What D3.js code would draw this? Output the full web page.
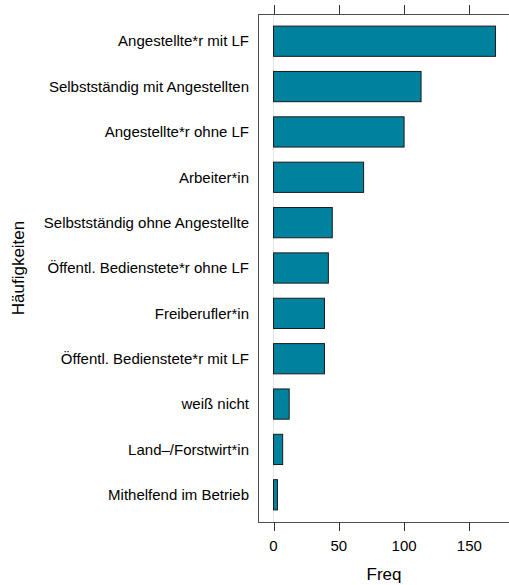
<!DOCTYPE html>
<meta charset="utf-8">
<style>
html,body{
  margin:0;
  background:#fff;
}
text{
  font-family: "Liberation Sans", Arial, sans-serif;
  fill:#000;
}
</style>
<script src="https://d3js.org/d3.v7.min.js"></script>
<body>
<script>

var width = 509,
    height = 585;

// categories from top to bottom, with their frequencies
var categories = ["Angestellte*r mit LF", "Selbstständig mit Angestellten", "Angestellte*r ohne LF",
  "Arbeiter*in", "Selbstständig ohne Angestellte", "Öffentl. Bedienstete*r ohne LF",
  "Freiberufler*in", "Öffentl. Bedienstete*r mit LF", "weiß nicht",
  "Land–/Forstwirt*in", "Mithelfend im Betrieb"];
var freq = [170, 113, 100, 69, 45, 42, 39, 39, 12, 7, 3];
var xTicks = [0, 50, 100, 150];

var panel = {left: 258, top: 14, right: 511, bottom: 522};

var svg = d3.select("body").append("svg")
    .attr("width", width)
    .attr("height", height);

var x = d3.scaleLinear()
    .domain([-11.9, 181.9])
    .range([panel.left, panel.right]);

var y = d3.scaleBand()
    .domain(categories)
    .range([panel.top, panel.bottom])
    .paddingInner(1/3)
    .paddingOuter(0.2667);

// reference line at 0
svg.append("line")
  .attr("x1", x(0)).attr("x2", x(0))
  .attr("y1", panel.top).attr("y2", panel.bottom)
  .attr("stroke", "#e6e6e6")
  .attr("stroke-width", 1);

svg.append("g").selectAll("rect")
  .data(categories)
  .enter().append("rect")
  .attr("x", x(0))
  .attr("y", function(d){ return y(d); })
  .attr("width", function(d, i){ return x(freq[i]) - x(0); })
  .attr("height", y.bandwidth())
  .attr("fill", "#00829f")
  .attr("stroke", "#1a1a1a")
  .attr("stroke-width", 1);

// panel box
svg.append("rect")
  .attr("x", panel.left + 0.5)
  .attr("y", panel.top + 0.5)
  .attr("width", panel.right - panel.left)
  .attr("height", panel.bottom - panel.top)
  .attr("fill", "none")
  .attr("stroke", "#4d4d4d")
  .attr("stroke-width", 1);

// ticks top and bottom
var tk = svg.append("g").attr("stroke", "#333");
xTicks.forEach(function(t){
  var px = Math.round(x(t)) + 0.5;
  tk.append("line").attr("x1", px).attr("x2", px).attr("y1", panel.top - 9).attr("y2", panel.top);
  tk.append("line").attr("x1", px).attr("x2", px).attr("y1", panel.bottom).attr("y2", panel.bottom + 9);
});

svg.append("g").selectAll("text")
  .data(xTicks)
  .enter().append("text")
  .attr("x", function(d){ return x(d); })
  .attr("y", 551)
  .attr("text-anchor", "middle")
  .attr("font-size", "15px")
  .text(function(d){ return d; });

// category labels
svg.append("g").selectAll("text")
  .data(categories)
  .enter().append("text")
  .attr("x", 249)
  .attr("y", function(d){ return y(d) + y.bandwidth() / 2; })
  .attr("dy", "0.35em")
  .attr("text-anchor", "end")
  .attr("font-size", "15px")
  .text(function(d){ return d; });

// axis titles
svg.append("text")
  .attr("x", 384)
  .attr("y", 580)
  .attr("text-anchor", "middle")
  .attr("font-size", "17px")
  .text("Freq");

svg.append("text")
  .attr("transform", "translate(24," + (panel.top + panel.bottom) / 2 + ") rotate(-90)")
  .attr("text-anchor", "middle")
  .attr("font-size", "17px")
  .text("Häufigkeiten");

</script>
</body>
</html>
